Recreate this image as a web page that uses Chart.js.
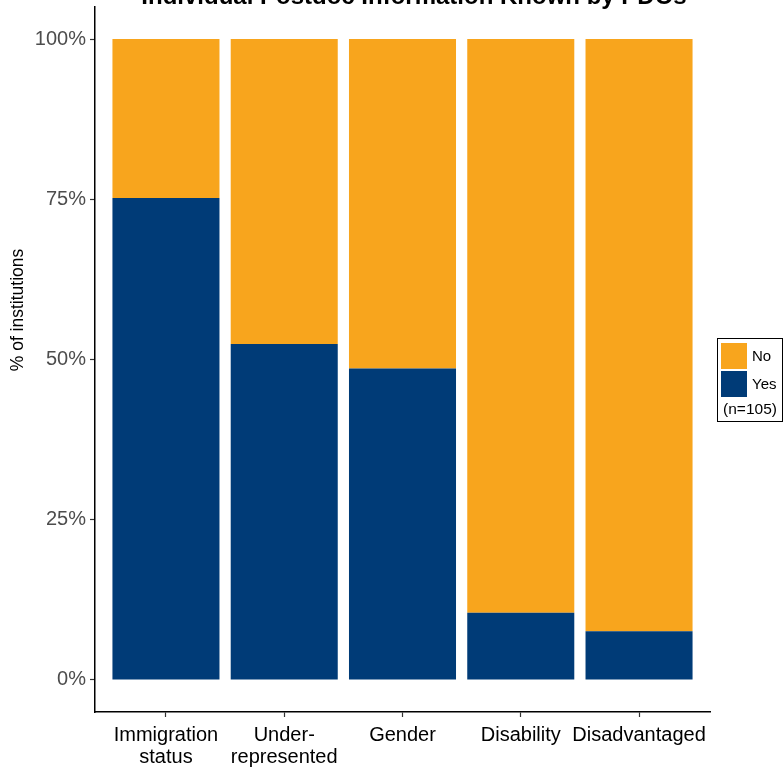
<!DOCTYPE html>
<html>
<head>
<meta charset="utf-8">
<script src="https://cdn.jsdelivr.net/npm/chart.js@4"></script>
<style>
  html, body { margin: 0; padding: 0; background: #fff; }
  #wrap { width: 784px; height: 771px; }
</style>
</head>
<body>
<div id="wrap"><canvas id="pdoChart"></canvas></div>
<script>
const categories = [['Immigration', 'status'], ['Under-', 'represented'], 'Gender', 'Disability', 'Disadvantaged'];
const yesValues = [75.2, 52.4, 48.6, 10.5, 7.6];
const noValues = [24.8, 47.6, 51.4, 89.5, 92.4];
const yTicks = [0, 25, 50, 75, 100];
const sampleNote = '(n=105)';
const titleText = 'Individual Postdoc Information Known by PDOs';

const FONT = '"Liberation Sans", Arial, sans-serif';
const blue = '#003b77';
const orange = '#f8a51d';

// ggplot-ish extras: clipped title, rotated y title, boxed legend
const extras = {
    id: 'extras',
    afterDraw(chart) {
        const c = chart.ctx;
        c.save();
        c.fillStyle = '#000';
        c.font = 'bold 24px ' + FONT;
        c.textAlign = 'center';
        c.textBaseline = 'alphabetic';
        c.fillText(titleText, 414, 4);

        c.font = '17.5px ' + FONT;
        c.translate(18, 310);
        c.rotate(-Math.PI / 2);
        c.textBaseline = 'middle';
        c.fillText('% of institutions', 0, 0);
        c.restore();

        // legend, reversed order like ggplot
        c.save();
        c.strokeStyle = '#000';
        c.lineWidth = 1;
        c.strokeRect(717.5, 338.5, 65, 83);
        const items = chart.data.datasets.slice().reverse();
        items.forEach((ds, i) => {
            c.fillStyle = ds.backgroundColor;
            c.fillRect(721, 343 + i * 28, 26, 26);
            c.fillStyle = '#000';
            c.font = '15px ' + FONT;
            c.textAlign = 'left';
            c.textBaseline = 'middle';
            c.fillText(ds.label, 752, 357 + i * 28);
        });
        c.font = '15.5px ' + FONT;
        c.textAlign = 'center';
        c.fillText(sampleNote, 750, 410);
        c.restore();
    }
};

new Chart(document.getElementById('pdoChart'), {
    type: 'bar',
    data: {
        datasets: [{
            label: 'Yes',
            data: yesValues.map((v, i) => ({ x: i + 1, y: v })),
            backgroundColor: blue
        }, {
            label: 'No',
            data: noValues.map((v, i) => ({ x: i + 1, y: v })),
            backgroundColor: orange
        }]
    },
    options: {
        responsive: true,
        maintainAspectRatio: false,
        animation: false,
        barPercentage: 0.905,
        categoryPercentage: 1,
        layout: { padding: { left: 0, right: 74, top: 7, bottom: 0 } },
        plugins: {
            legend: { display: false },
            tooltip: { enabled: false }
        },
        scales: {
            x: {
                type: 'linear',
                offset: false,
                stacked: true,
                min: 0.4,
                max: 5.6,
                afterBuildTicks: s => { s.ticks = categories.map((_, i) => ({ value: i + 1 })); },
                afterFit: s => { s.height = 59; s.paddingLeft = 0; s.paddingRight = 0; },
                border: { display: true, color: '#000', width: 1.5 },
                grid: { offset: false, drawOnChartArea: false, drawTicks: true, tickLength: 5, tickColor: '#333', tickWidth: 1.2 },
                ticks: {
                    color: '#000',
                    font: { family: FONT, size: 20, lineHeight: 1.1 },
                    padding: 7,
                    maxRotation: 0,
                    autoSkip: false,
                    callback: v => categories[v - 1]
                }
            },
            y: {
                stacked: true,
                min: -5,
                max: 105,
                afterBuildTicks: s => { s.ticks = yTicks.map(v => ({ value: v })); },
                afterFit: s => { s.width = 95; s.paddingTop = 0; s.paddingBottom = 0; },
                border: { display: true, color: '#000', width: 1.5 },
                grid: { drawOnChartArea: false, drawTicks: true, tickLength: 5, tickColor: '#333', tickWidth: 1.2 },
                ticks: {
                    color: '#4d4d4d',
                    font: { family: FONT, size: 20 },
                    padding: 4,
                    callback: v => v + '%'
                }
            }
        }
    },
    plugins: [extras]
});
</script>
</body>
</html>
